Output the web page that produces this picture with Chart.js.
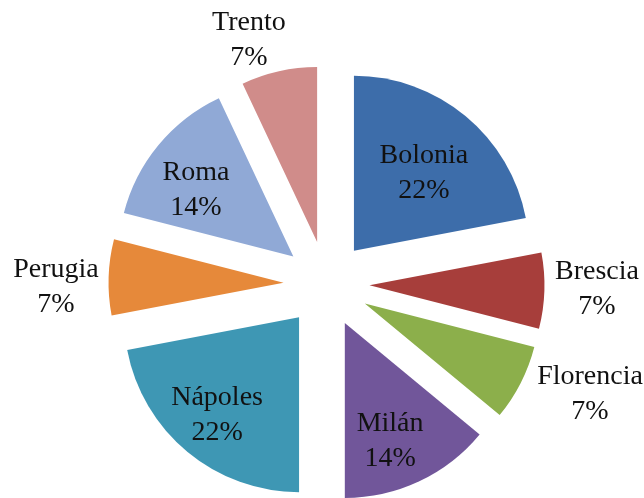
<!DOCTYPE html>
<html>
<head>
<meta charset="utf-8">
<script src="https://cdn.jsdelivr.net/npm/chart.js@4/dist/chart.umd.min.js"></script>
<style>
  html, body { margin: 0; padding: 0; background: #ffffff; }
  #wrap { width: 644px; height: 498px; position: relative; }
</style>
</head>
<body>
<div id="wrap"><canvas id="c" width="644" height="498"></canvas></div>
<script>
// ---- data ----
const categories = ['Bolonia', 'Brescia', 'Florencia', 'Milán', 'Nápoles', 'Perugia', 'Roma', 'Trento'];
const percentages = [22, 7, 7, 14, 22, 7, 14, 7];
const percentLabels = ['22%', '7%', '7%', '14%', '22%', '7%', '14%', '7%'];

// ---- styles ----
const sliceColors = ['#3D6DAA', '#A73E3B', '#8CAF4B', '#71569A', '#3E97B4', '#E6893A', '#90A9D6', '#D08C8A'];
// label placement relative to each slice: radius fraction and angular nudge (deg)
const labelRadius = [0.605, 1.30, 1.384, 0.712, 0.723, 1.30, 0.681, 1.229];
const labelNudge = [1.8, -1.3, -5.4, 3.9, 0.8, -2.4, -4.4, -5.9];
const explodeDistance = 43; // every slice pulled out from the centre by this many px

// Exploded pie: shift each arc along its mid-angle without resizing it
const explodePlugin = {
  id: 'explodeSlices',
  beforeDatasetsDraw(chart) {
    chart.getDatasetMeta(0).data.forEach(arc => {
      if (arc.__exploded) return;
      const origDraw = arc.draw.bind(arc);
      arc.draw = function (ctx) {
        const mid = (this.startAngle + this.endAngle) / 2;
        ctx.save();
        ctx.translate(Math.cos(mid) * explodeDistance, Math.sin(mid) * explodeDistance);
        origDraw(ctx);
        ctx.restore();
      };
      arc.__exploded = true;
    });
  }
};

const labelPlugin = {
  id: 'sliceLabels',
  afterDatasetsDraw(chart) {
    const ctx = chart.ctx;
    const meta = chart.getDatasetMeta(0);
    ctx.save();
    ctx.font = '28px "Liberation Serif", "Times New Roman", serif';
    ctx.fillStyle = '#111111';
    ctx.textAlign = 'center';
    ctx.textBaseline = 'alphabetic';
    meta.data.forEach((arc, i) => {
      const p = arc.getProps(['x', 'y', 'startAngle', 'endAngle', 'outerRadius'], true);
      const mid = (p.startAngle + p.endAngle) / 2;
      const ex = p.x + Math.cos(mid) * explodeDistance;
      const ey = p.y + Math.sin(mid) * explodeDistance;
      const a = mid + labelNudge[i] * Math.PI / 180;
      const d = labelRadius[i] * p.outerRadius;
      const cx = ex + Math.cos(a) * d;
      const cy = ey + Math.sin(a) * d;
      ctx.fillText(categories[i], cx, cy - 8.3);
      ctx.fillText(percentLabels[i], cx, cy + 26.8);
    });
    ctx.restore();
  }
};

new Chart(document.getElementById('c'), {
  type: 'pie',
  data: {
    labels: categories,
    datasets: [{
      data: percentages,
      backgroundColor: sliceColors,
      borderWidth: 0,
      offset: 0
    }]
  },
  options: {
    responsive: false,
    animation: false,
    radius: 175,
    layout: { padding: { left: 9, right: 0, top: 70, bottom: 0 } },
    plugins: {
      legend: { display: false },
      tooltip: { enabled: false },
      title: { display: false }
    }
  },
  plugins: [explodePlugin, labelPlugin]
});
</script>
</body>
</html>
